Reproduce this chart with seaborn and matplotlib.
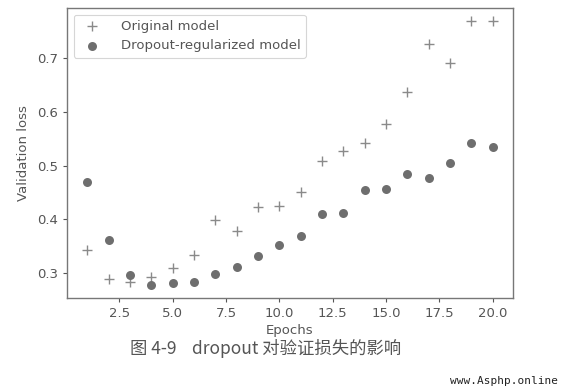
import matplotlib
matplotlib.use("Agg")
import matplotlib.pyplot as plt
import seaborn as sns

epochs = list(range(1, 21))
original_loss = [0.343, 0.288, 0.284, 0.293, 0.310, 0.333, 0.399, 0.379, 0.423, 0.425,
                 0.450, 0.509, 0.527, 0.543, 0.577, 0.638, 0.727, 0.692, 0.769, 0.769]
dropout_loss = [0.469, 0.361, 0.296, 0.278, 0.281, 0.283, 0.298, 0.311, 0.332, 0.353,
                0.369, 0.410, 0.411, 0.455, 0.457, 0.484, 0.477, 0.504, 0.543, 0.535]
series_names = ["Original model", "Dropout-regularized model"]
x_ticks = [2.5, 5.0, 7.5, 10.0, 12.5, 15.0, 17.5, 20.0]
y_ticks = [0.3, 0.4, 0.5, 0.6, 0.7]

sns.set_style("ticks")
plt.rcParams["font.family"] = ["DejaVu Sans", "Noto Sans CJK SC"]

fig = plt.figure(figsize=(5.62, 3.90), dpi=100)
ax = fig.add_axes([67 / 562, 1 - 298 / 390, 446 / 562, 290 / 390])

# '+' and 'o' can't be mixed in one seaborn style mapping, so two calls
sns.scatterplot(x=epochs, y=original_loss, marker="+", s=55, color="#8a8a8a",
                linewidth=1.0, label=series_names[0], ax=ax)
sns.scatterplot(x=epochs, y=dropout_loss, marker="o", s=42, color="#6e6e6e",
                linewidth=0, label=series_names[1], ax=ax)

ax.set_xlabel("Epochs", fontsize=9.5, color="#555555", labelpad=3)
ax.set_ylabel("Validation loss", fontsize=9.5, color="#555555", labelpad=5)
ax.set_yticks(y_ticks)
ax.set_xticks(x_ticks)
ax.tick_params(labelsize=9.5, colors="#555555", length=3, width=0.8)
for sp in ax.spines.values():
    sp.set_color("#777777")
    sp.set_linewidth(1.0)

leg = ax.legend(loc="upper left", fontsize=9.5, frameon=True, borderpad=0.4,
                handletextpad=1.2, labelspacing=0.5)
leg.get_frame().set_edgecolor("#cccccc")
leg.get_frame().set_linewidth(0.8)
for t in leg.get_texts():
    t.set_color("#555555")

fig.text(266 / 562, 1 - 348 / 390, "图 4-9    dropout 对验证损失的影响",
         ha="center", va="center", fontsize=12.5, color="#555555",
         family=["Noto Sans CJK SC", "DejaVu Sans"])
fig.text(558 / 562, 1 - 381 / 390, "www.Asphp.online", ha="right", va="center",
         fontsize=8, color="#222222", family="DejaVu Sans Mono")

fig.savefig("out.png", dpi=100)
